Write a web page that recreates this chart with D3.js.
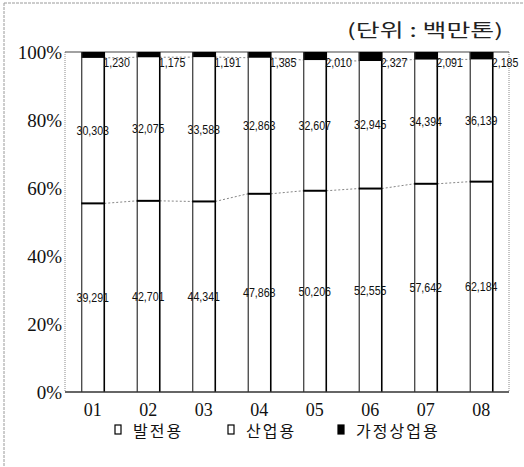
<!DOCTYPE html>
<html>
<head>
<meta charset="utf-8">
<script src="https://cdn.jsdelivr.net/npm/d3@7"></script>
<style>
  html, body { margin: 0; padding: 0; background: #fff; }
  svg { display: block; }
</style>
</head>
<body>
<svg id="chart" width="524" height="467"></svg>
<script>
// Years (20xx) and consumption by use, in million tonnes
const categories = ["01", "02", "03", "04", "05", "06", "07", "08"];
const power      = [39291, 42701, 44341, 47868, 50206, 52555, 57642, 62184];
const industry   = [30303, 32075, 33588, 32863, 32607, 32945, 34394, 36139];
const household  = [1230, 1175, 1191, 1385, 2010, 2327, 2091, 2185];
const seriesNames = ["발전용", "산업용", "가정상업용"];
const yTicks = [0, 0.2, 0.4, 0.6, 0.8, 1.0];
const unitLabel = "(단위 : 백만톤)";

const svg = d3.select("#chart");
const W = 524, H = 467;
const plot = { left: 65, right: 509, top: 52, bottom: 392 };

// Normalised (100%) stack
const rows = categories.map((c, i) => ({
  cat: c, power: power[i], industry: industry[i], household: household[i]
}));
const stack = d3.stack()
  .keys(["power", "industry", "household"])
  .offset(d3.stackOffsetExpand)(rows);

const x = d3.scaleBand().domain(categories)
  .range([plot.left, plot.right])
  .paddingInner(0.585).paddingOuter(0.2925);
const y = d3.scaleLinear().domain([0, 1]).range([plot.bottom, plot.top]);
const bw = x.bandwidth();

// Outer frame (top and left edges)
svg.append("line").attr("x1", 4).attr("x2", W).attr("y1", 3).attr("y2", 3)
  .attr("stroke", "#9a9a9a").attr("stroke-width", 1).attr("stroke-dasharray", "3,1");
svg.append("line").attr("x1", 4).attr("x2", 4).attr("y1", 3).attr("y2", H)
  .attr("stroke", "#9a9a9a").attr("stroke-width", 1).attr("stroke-dasharray", "3,1");

// Plot area borders
svg.append("line").attr("x1", plot.left).attr("x2", plot.left)
  .attr("y1", plot.top).attr("y2", plot.bottom)
  .attr("stroke", "#8a8a8a").attr("stroke-dasharray", "1,1");
svg.append("line").attr("x1", plot.right).attr("x2", plot.right)
  .attr("y1", plot.top).attr("y2", plot.bottom)
  .attr("stroke", "#8a8a8a").attr("stroke-dasharray", "1,1");
svg.append("line").attr("x1", plot.left).attr("x2", plot.right)
  .attr("y1", plot.top).attr("y2", plot.top)
  .attr("stroke", "#444").attr("stroke-width", 1.2);

// Series connector lines between neighbouring bars
[0, 1].forEach(k => {
  const s = stack[k];
  for (let i = 0; i < categories.length - 1; i++) {
    svg.append("line")
      .attr("x1", x(categories[i]) + bw).attr("y1", y(s[i][1]))
      .attr("x2", x(categories[i + 1])).attr("y2", y(s[i + 1][1]))
      .attr("stroke", "#777").attr("stroke-width", 0.9)
      .attr("stroke-dasharray", "2,2");
  }
});

// Bars
const bars = svg.append("g");
rows.forEach((r, i) => {
  const bx = x(r.cat);
  const p = stack[0][i], ind = stack[1][i], hh = stack[2][i];
  bars.append("rect").attr("x", bx).attr("y", y(ind[1]))
    .attr("width", bw).attr("height", y(p[0]) - y(ind[1])).attr("fill", "#fff");
  bars.append("rect").attr("x", bx).attr("y", y(hh[1]))
    .attr("width", bw).attr("height", y(hh[0]) - y(hh[1])).attr("fill", "#000");
  bars.append("line").attr("x1", bx + 0.5).attr("x2", bx + 0.5)
    .attr("y1", y(1)).attr("y2", y(0))
    .attr("stroke", "#333").attr("stroke-width", 1.2);
  bars.append("line").attr("x1", bx + bw).attr("x2", bx + bw)
    .attr("y1", y(1)).attr("y2", y(0))
    .attr("stroke", "#000").attr("stroke-width", 1.6);
  bars.append("line").attr("x1", bx).attr("x2", bx + bw)
    .attr("y1", y(p[1])).attr("y2", y(p[1]))
    .attr("stroke", "#000").attr("stroke-width", 2);
});

// Bottom axis line
svg.append("line").attr("x1", plot.left).attr("x2", plot.right)
  .attr("y1", plot.bottom).attr("y2", plot.bottom)
  .attr("stroke", "#333").attr("stroke-width", 1.5);

// Value labels, horizontally condensed
const fmt = d3.format(",");
const labels = svg.append("g")
  .attr("font-family", "'Liberation Sans', Arial, sans-serif")
  .attr("font-size", 13).attr("fill", "#111");
function valueLabel(px, py, anchor, txt) {
  labels.append("text")
    .attr("transform", `translate(${px},${py}) scale(0.82,1)`)
    .attr("text-anchor", anchor).attr("dominant-baseline", "central")
    .text(txt);
}
rows.forEach((r, i) => {
  const cx = x(r.cat) + bw / 2;
  const p = stack[0][i], ind = stack[1][i];
  valueLabel(cx, y((p[0] + p[1]) / 2), "middle", fmt(r.power));
  valueLabel(cx, y((ind[0] + ind[1]) / 2), "middle", fmt(r.industry));
  valueLabel(x(r.cat) + bw - 1, y(1) + 10.5, "start", fmt(r.household));
});

// Y axis
const serif = "'Liberation Serif', 'Times New Roman', serif";
const yAxis = d3.axisLeft(y).tickValues(yTicks).tickFormat(d3.format(".0%"))
  .tickSize(0).tickPadding(3);
const yg = svg.append("g").attr("transform", `translate(${plot.left},0)`).call(yAxis);
yg.select(".domain").remove();
yg.selectAll("text").attr("font-family", serif).attr("font-size", 19)
  .attr("fill", "#111");

// X axis
const xAxis = d3.axisBottom(x).tickSize(0).tickPadding(11);
const xg = svg.append("g").attr("transform", `translate(0,${plot.bottom})`).call(xAxis);
xg.select(".domain").remove();
xg.selectAll("text").attr("font-family", serif).attr("font-size", 18)
  .attr("fill", "#111");

// Unit note
svg.append("text").attr("x", 503).attr("y", 37)
  .attr("text-anchor", "end")
  .attr("font-family", "'Noto Sans CJK KR', sans-serif")
  .attr("font-size", 18).attr("fill", "#222")
  .attr("textLength", 156).attr("lengthAdjust", "spacingAndGlyphs")
  .text(unitLabel);

// Legend
const legendX = [115, 228, 338];
const legendFill = ["#fff", "#fff", "#000"];
const lg = svg.append("g");
seriesNames.forEach((name, i) => {
  lg.append("rect").attr("x", legendX[i]).attr("y", 425)
    .attr("width", 6).attr("height", 9)
    .attr("fill", legendFill[i]).attr("stroke", "#000").attr("stroke-width", 1.2);
  lg.append("text").attr("x", legendX[i] + 18).attr("y", 437)
    .attr("font-family", "'Noto Sans CJK KR', sans-serif")
    .attr("font-size", 16).attr("letter-spacing", 2).attr("fill", "#111")
    .text(name);
});
</script>
</body>
</html>
